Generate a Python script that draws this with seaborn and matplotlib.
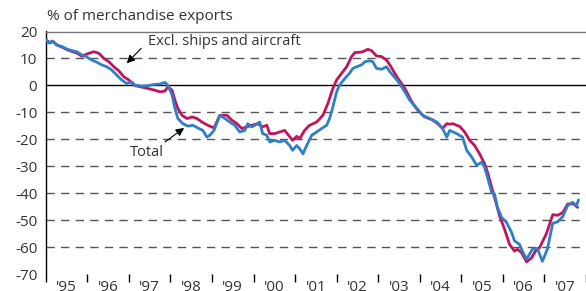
import numpy as np
import pandas as pd
import matplotlib.pyplot as plt
import seaborn as sns
from matplotlib.ticker import FixedLocator, NullFormatter

# Trade balance, % of merchandise exports
total_year = [1995.00, 1995.08, 1995.15, 1995.27, 1995.39, 1995.51, 1995.63, 1995.75,
              1995.87, 1995.99, 1996.11, 1996.23, 1996.35, 1996.47, 1996.59, 1996.71,
              1996.83, 1996.95, 1997.07, 1997.15, 1997.31, 1997.46, 1997.63, 1997.75,
              1997.87, 1997.94, 1998.04, 1998.11, 1998.18, 1998.30, 1998.42, 1998.54,
              1998.66, 1998.78, 1998.88, 1998.95, 1999.05, 1999.19, 1999.31, 1999.43,
              1999.55, 1999.67, 1999.79, 1999.86, 1999.96, 2000.08, 2000.15, 2000.22,
              2000.32, 2000.39, 2000.51, 2000.63, 2000.75, 2000.87, 2000.94, 2001.04,
              2001.11, 2001.19, 2001.28, 2001.40, 2001.52, 2001.64, 2001.76, 2001.83,
              2001.91, 2002.00, 2002.07, 2002.20, 2002.31, 2002.39, 2002.48, 2002.60,
              2002.68, 2002.80, 2002.87, 2002.96, 2003.08, 2003.20, 2003.28, 2003.45,
              2003.59, 2003.76, 2003.93, 2004.07, 2004.24, 2004.41, 2004.55, 2004.65,
              2004.72, 2004.89, 2005.03, 2005.13, 2005.25, 2005.37, 2005.49, 2005.56,
              2005.63, 2005.73, 2005.80, 2005.87, 2005.97, 2006.09, 2006.21, 2006.28,
              2006.40, 2006.47, 2006.57, 2006.71, 2006.83, 2006.95, 2007.07, 2007.20,
              2007.32, 2007.44, 2007.56, 2007.68, 2007.77, 2007.82]
total = [17.0, 15.7, 16.5, 15.0, 14.4, 13.5, 12.9, 12.5,
         11.3, 10.5, 9.4, 8.6, 7.6, 6.9, 5.7, 3.8,
         2.0, 0.7, 1.3, 0.1, -0.3, -0.1, 0.4, 0.5,
         1.1, 0.0, -3.6, -8.6, -12.3, -14.2, -15.1, -14.8,
         -15.8, -16.7, -19.2, -18.5, -16.7, -11.1, -12.3, -13.6,
         -14.8, -17.3, -16.7, -14.2, -15.4, -14.4, -13.6, -17.9,
         -18.5, -21.0, -20.4, -21.0, -20.4, -22.3, -24.1, -22.3,
         -23.5, -25.4, -22.3, -18.5, -17.3, -16.0, -14.8, -12.3,
         -8.0, -2.4, 0.1, 2.6, 4.5, 6.3, 6.9, 7.6,
         8.8, 9.1, 8.8, 6.3, 6.0, 6.9, 5.1, 2.0,
         -1.1, -5.5, -8.6, -11.1, -12.3, -13.6, -16.0, -19.2,
         -16.7, -17.9, -19.2, -24.1, -26.6, -29.7, -28.5, -30.4,
         -34.1, -39.7, -40.3, -45.3, -49.0, -50.9, -54.6, -57.7,
         -59.0, -61.5, -64.5, -60.8, -60.5, -65.3, -60.8, -51.2,
         -50.6, -48.7, -44.5, -43.4, -44.7, -42.5]

excl_year = [1995.00, 1995.10, 1995.18, 1995.27, 1995.39, 1995.51, 1995.63, 1995.75,
             1995.87, 1996.02, 1996.16, 1996.28, 1996.40, 1996.52, 1996.64, 1996.76,
             1996.88, 1997.00, 1997.07, 1997.15, 1997.39, 1997.63, 1997.75, 1997.87,
             1997.94, 1998.04, 1998.11, 1998.18, 1998.28, 1998.40, 1998.52, 1998.64,
             1998.76, 1998.90, 1999.05, 1999.19, 1999.36, 1999.48, 1999.60, 1999.72,
             1999.84, 1999.96, 2000.10, 2000.22, 2000.32, 2000.39, 2000.51, 2000.63,
             2000.75, 2000.87, 2000.94, 2001.04, 2001.11, 2001.23, 2001.35, 2001.52,
             2001.67, 2001.79, 2001.91, 2002.00, 2002.12, 2002.24, 2002.36, 2002.44,
             2002.56, 2002.63, 2002.75, 2002.84, 2002.96, 2003.08, 2003.20, 2003.28,
             2003.45, 2003.64, 2003.81, 2003.95, 2004.12, 2004.29, 2004.43, 2004.55,
             2004.65, 2004.72, 2004.79, 2004.96, 2005.08, 2005.20, 2005.32, 2005.44,
             2005.56, 2005.63, 2005.73, 2005.80, 2005.92, 2006.04, 2006.16, 2006.28,
             2006.35, 2006.45, 2006.57, 2006.69, 2006.81, 2006.88, 2007.05, 2007.20,
             2007.32, 2007.44, 2007.56, 2007.70, 2007.80]
excl = [17.0, 15.8, 16.3, 15.0, 14.2, 13.3, 12.6, 12.0,
        10.8, 11.8, 12.5, 11.9, 10.0, 8.8, 6.9, 5.4,
        3.2, 2.0, 1.0, -0.1, -0.9, -1.8, -2.4, -2.1,
        -0.5, -1.8, -5.5, -8.6, -11.1, -12.3, -11.7, -12.3,
        -13.6, -14.8, -15.8, -11.1, -11.1, -12.9, -14.2, -16.0,
        -15.4, -14.8, -14.2, -15.4, -14.8, -17.9, -17.9, -17.3,
        -16.7, -19.0, -20.4, -18.9, -19.8, -16.7, -14.8, -13.6,
        -11.1, -6.7, -1.1, 2.0, 4.5, 6.9, 10.7, 12.2,
        12.3, 12.5, 13.4, 12.9, 10.9, 10.7, 9.4, 7.6,
        3.2, -1.1, -6.1, -9.2, -11.7, -12.7, -14.2, -16.0,
        -14.2, -14.4, -14.2, -15.2, -17.3, -20.4, -22.3, -25.4,
        -29.1, -32.2, -37.8, -41.6, -48.4, -53.4, -59.0, -61.5,
        -60.8, -62.1, -65.5, -64.0, -60.8, -60.3, -54.9, -48.0,
        -48.2, -47.2, -44.0, -44.0, -45.3]

year_labels = ["'95", "'96", "'97", "'98", "'99", "'00", "'01",
               "'02", "'03", "'04", "'05", "'06", "'07"]
y_ticks = [20, 10, 0, -10, -20, -30, -40, -50, -60, -70]

BLUE = '#2f7fc6'
RED = '#c0145c'
TEXT = '#333333'

sns.set_style('white')
plt.rcParams['font.family'] = ['Open Sans', 'DejaVu Sans']

fig = plt.figure(figsize=(5.86, 2.91), dpi=100)
ax = fig.add_axes([45.7 / 586, 1 - 274 / 291, 1 - 45.7 / 586, (274 - 31.5) / 291])

# grid lines first so the series sit on top
for v in y_ticks:
    if v == 0:
        ax.axhline(v, color='black', lw=1.0, zorder=1)
    elif v not in (20, -70):
        ax.axhline(v, color='#555555', lw=1.0, ls=(0, (6, 4.5)), zorder=1)

sns.lineplot(x=total_year, y=total, ax=ax, color=BLUE, lw=2.0, zorder=3)
sns.lineplot(x=excl_year, y=excl, ax=ax, color=RED, lw=2.0, zorder=2)

ax.set_xlim(1995, 2008)
ax.set_ylim(-70, 20)
ax.set_xlabel('')
ax.set_ylabel('')

# year boundaries as ticks, labels centred in each year
ax.xaxis.set_major_locator(FixedLocator(np.arange(1995, 2009)))
ax.xaxis.set_major_formatter(NullFormatter())
ax.xaxis.set_minor_locator(FixedLocator(np.arange(1995, 2008) + 0.5))
ax.set_xticklabels(year_labels, minor=True)
ax.tick_params(axis='x', which='major', direction='out', length=6, width=1,
               color='black', bottom=True)
ax.tick_params(axis='x', which='minor', length=0, pad=4, labelsize=11,
               labelcolor=TEXT)

ax.set_yticks(y_ticks)
ax.set_yticklabels([str(v) for v in y_ticks])
ax.tick_params(axis='y', length=0, pad=6, labelsize=11, labelcolor=TEXT)

for side in ['right', 'bottom']:
    ax.spines[side].set_visible(False)
ax.spines['left'].set_color('black')
ax.spines['left'].set_linewidth(1.0)
ax.spines['top'].set_color('#777777')
ax.spines['top'].set_linewidth(1.0)

fig.text(47 / 586, 1 - 17 / 291, '% of merchandise exports', fontsize=11,
         color=TEXT, va='center', ha='left')

arrow = dict(arrowstyle='-|>', color='black', lw=0.8, mutation_scale=12,
             shrinkA=0, shrinkB=0)
ax.annotate('', xy=(1996.95, 8.2), xytext=(1997.30, 13.8), arrowprops=arrow)
ax.text(1997.46, 16.2, 'Excl. ships and aircraft', fontsize=10.5, color=TEXT,
        va='center', ha='left')
ax.annotate('', xy=(1998.33, -15.8), xytext=(1997.87, -21.0), arrowprops=arrow)
ax.text(1997.03, -25.0, 'Total', fontsize=10.5, color=TEXT, va='center', ha='left')

fig.savefig('out.png', dpi=100)
